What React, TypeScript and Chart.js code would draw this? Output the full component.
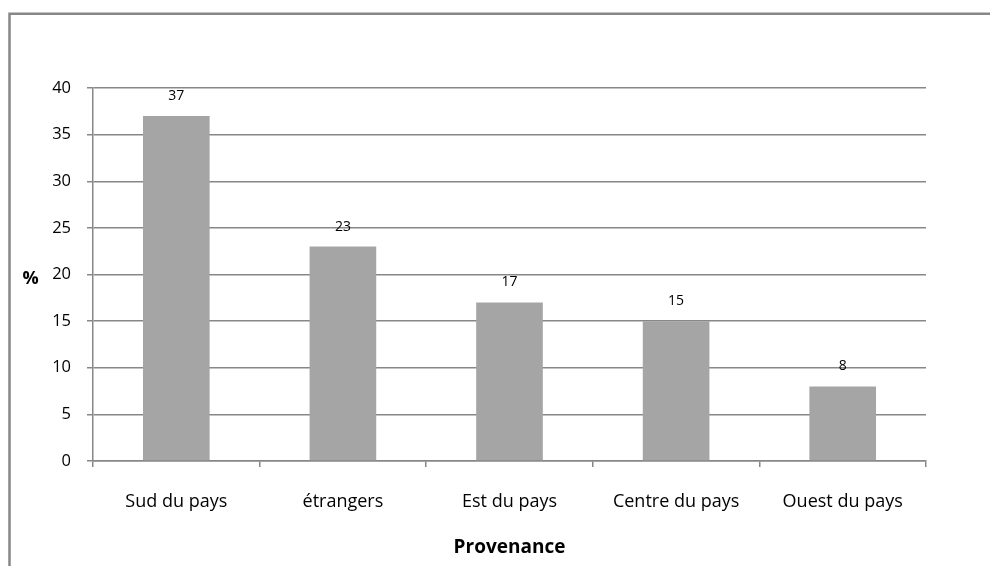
import React, { useEffect, useRef } from "react";
import { Chart, registerables } from "chart.js";

Chart.register(...registerables);

const categories = ["Sud du pays", "étrangers", "Est du pays", "Centre du pays", "Ouest du pays"];
const values = [37, 23, 17, 15, 8];
const yTitle = "%";
const xTitle = "Provenance";

const W = 990;
const H = 566;
const FONT = "'Open Sans', 'Noto Sans', sans-serif";
const LINE = "#878787";

const framePlugin = {
  id: "frame",
  beforeDraw(chart: any) {
    const ctx = chart.ctx;
    ctx.save();
    ctx.strokeStyle = LINE;
    ctx.lineWidth = 2.5;
    ctx.beginPath();
    ctx.moveTo(9.5, H);
    ctx.lineTo(9.5, 13.8);
    ctx.lineTo(W, 13.8);
    ctx.stroke();
    ctx.restore();
  },
};

const valueLabelPlugin = {
  id: "valueLabels",
  afterDatasetsDraw(chart: any) {
    const ctx = chart.ctx;
    const meta = chart.getDatasetMeta(0);
    ctx.save();
    ctx.fillStyle = "#000";
    ctx.font = `14px ${FONT}`;
    ctx.textAlign = "center";
    ctx.textBaseline = "middle";
    meta.data.forEach((bar: any, i: number) => {
      ctx.fillText(String(values[i]), bar.x, bar.y - 20);
    });
    ctx.restore();
  },
};

const titlesPlugin = {
  id: "axisTitles",
  afterDraw(chart: any) {
    const ctx = chart.ctx;
    const area = chart.chartArea;
    ctx.save();
    ctx.fillStyle = "#000";
    ctx.textAlign = "center";
    ctx.textBaseline = "middle";
    ctx.font = `bold 18px ${FONT}`;
    ctx.fillText(yTitle, 30.5, (area.top + area.bottom) / 2 + 4);
    ctx.font = `bold 19px ${FONT}`;
    ctx.fillText(xTitle, (area.left + area.right) / 2, 548);
    ctx.restore();
  },
};

export default function App() {
  const ref = useRef<HTMLCanvasElement | null>(null);

  useEffect(() => {
    const canvas = ref.current;
    if (!canvas) return;
    const chart = new Chart(canvas, {
      type: "bar",
      data: {
        labels: categories,
        datasets: [
          {
            data: values,
            backgroundColor: "#A5A5A5",
            borderWidth: 0,
            categoryPercentage: 1,
            barPercentage: 0.4,
          },
        ],
      },
      options: {
        responsive: false,
        animation: false,
        devicePixelRatio: 1,
        layout: { padding: { left: 0, top: 88, right: 64, bottom: 0 } },
        plugins: {
          legend: { display: false },
          tooltip: { enabled: false },
          title: { display: false },
        },
        scales: {
          x: {
            afterFit(scale: any) {
              scale.height = H - 461;
            },
            grid: {
              offset: true,
              drawOnChartArea: false,
              drawTicks: true,
              tickLength: 6,
              color: LINE,
              lineWidth: 1.5,
            },
            border: { display: true, color: LINE, width: 1.5 },
            ticks: {
              color: "#000",
              font: { family: FONT, size: 18 },
              padding: 24,
              maxRotation: 0,
              autoSkip: false,
            },
          },
          y: {
            min: 0,
            max: 40,
            afterFit(scale: any) {
              scale.width = 93;
            },
            grid: {
              color: LINE,
              lineWidth: 1.5,
              tickLength: 6,
              drawTicks: true,
            },
            border: { display: true, color: LINE, width: 1.5 },
            ticks: {
              stepSize: 5,
              color: "#000",
              font: { family: FONT, size: 16.5 },
              padding: 16,
            },
          },
        },
      },
      plugins: [framePlugin, valueLabelPlugin, titlesPlugin],
    });
    return () => chart.destroy();
  }, []);

  return (
    <div style={{ position: "fixed", left: 0, top: 0, width: W, height: H, background: "#fff" }}>
      <canvas ref={ref} width={W} height={H} style={{ width: W, height: H, display: "block" }} />
    </div>
  );
}
